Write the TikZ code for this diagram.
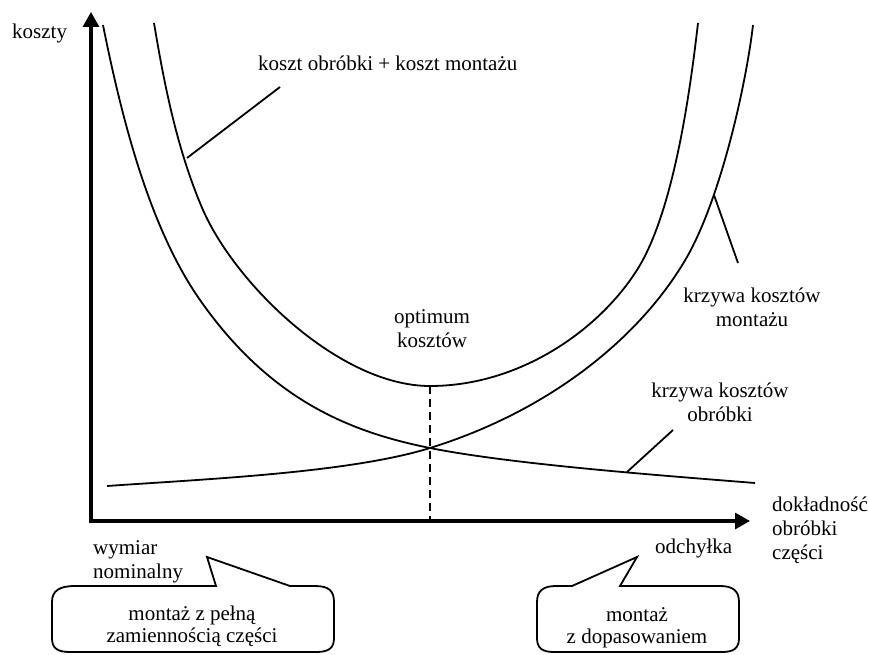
\documentclass[tikz,border=0pt]{standalone}
\usepackage{fontspec}
\setmainfont{Liberation Serif}
\usetikzlibrary{arrows.meta}
\tikzset{
  lbl/.style={inner sep=0pt, font=\fontsize{21}{24}\selectfont},
  boxtxt/.style={inner sep=0pt, font=\fontsize{21}{21.5}\selectfont},
  curve/.style={line width=1.8pt},
  leader/.style={line width=1.8pt},
  axis/.style={line width=3.2pt, line join=miter,
    {Triangle[length=15pt,width=16pt]}-{Triangle[length=15pt,width=16pt]}},
  callout/.style={line width=1.8pt},
  optline/.style={line width=2.4pt, dash pattern=on 8pt off 5pt}
}
\begin{document}
\begin{tikzpicture}[x=1pt,y=-1pt]
\useasboundingbox (0,0) rectangle (869,655);

% axes
\coordinate (O) at (91,521);
\coordinate (ytop) at (91,12);
\coordinate (xend) at (750,521);
\draw[axis] (ytop) -- (O) -- (xend);

% sum curve
\draw[curve] (154,23) .. controls (164,83) and (177,150) .. (203,210)
  .. controls (236,285) and (340,386) .. (430,386)
  .. controls (520,386) and (599,330) .. (637,270)
  .. controls (675,210) and (691,83) .. (698,23);
% machining cost curve (falling)
\draw[curve] (103,25) .. controls (123,125) and (151,230) .. (200,300)
  .. controls (270,400) and (350,432) .. (430,448)
  .. controls (510,464) and (655,475) .. (755,483);
% assembly cost curve (rising)
\draw[curve] (107,486) .. controls (207,479) and (350,472.8) .. (430,448)
  .. controls (550,410.8) and (641,337) .. (687,257)
  .. controls (721,197) and (746,85) .. (753,25);

% optimum dashed line
\coordinate (opt) at (430,386);
\coordinate (optb) at (430,521);
\draw[optline] (opt) -- (optb);

% leaders
\coordinate (s1) at (187,158); \coordinate (s2) at (280,87);
\draw[leader] (s1) -- (s2);
\coordinate (m1) at (714,195); \coordinate (m2) at (738,263);
\draw[leader] (m1) -- (m2);
\coordinate (o1) at (627,472); \coordinate (o2) at (673,430);
\draw[leader] (o1) -- (o2);

% labels (base anchor = baseline of the last line)
\node[lbl, anchor=base west] (koszty) at (12,39) {koszty};
\node[lbl, anchor=base west] (suma) at (258,71) {koszt obróbki + koszt montażu};
\node[lbl, anchor=base, align=center] (optimum) at (432,347) {optimum\\kosztów};
\node[lbl, anchor=base, align=center] (montaz) at (752,326) {krzywa kosztów\\montażu};
\node[lbl, anchor=base, align=center] (obrobka) at (720,421) {krzywa kosztów\\obróbki};
\node[lbl, anchor=base west, align=left] (dokl) at (772,559) {dokładność\\obróbki\\części};
\node[lbl, anchor=base west, align=left] (wym) at (93,578) {wymiar\\nominalny};
\node[lbl, anchor=base west] (odch) at (655,553) {odchyłka};

% callouts
\draw[callout] (75,586) -- (216,586) -- (207,557) -- (290,586) -- (315,586)
  .. controls (329,586) and (334,591) .. (334,602) -- (334,638)
  .. controls (334,648) and (329,652) .. (316,652) -- (70,652)
  .. controls (57,652) and (52,648) .. (52,638) -- (52,602)
  .. controls (52,591) and (59,586) .. (75,586) -- cycle;
\node[boxtxt, anchor=base, align=center] (box1) at (192,642) {montaż z pełną\\zamiennością części};

\draw[callout] (556,586) -- (572,586) -- (637,557) -- (620,586) -- (720,586)
  .. controls (733,586) and (739,591) .. (739,602) -- (739,638)
  .. controls (739,648) and (734,652) .. (722,652) -- (554,652)
  .. controls (542,652) and (537,648) .. (537,638) -- (537,602)
  .. controls (537,591) and (543,586) .. (556,586) -- cycle;
\node[boxtxt, anchor=base, align=center] (box2) at (637,643) {montaż\\z dopasowaniem};
\end{tikzpicture}
\end{document}
